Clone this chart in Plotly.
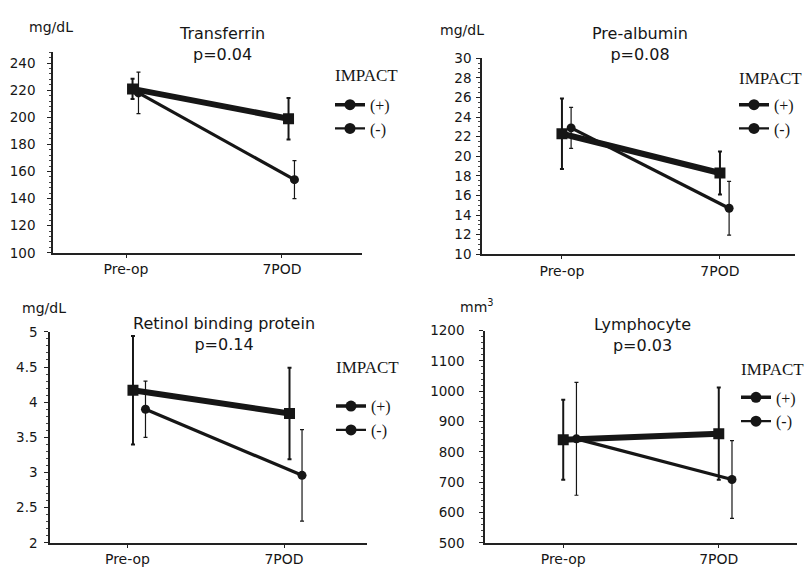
import plotly.graph_objects as go

W, H = 807, 582

categories = ["Pre-op", "7POD"]
series_names = ["(+)", "(-)"]
legend_heading = "IMPACT"

transferrin_plus = [221, 199]
transferrin_plus_sd = [7.5, 15.3]
transferrin_minus = [218, 154]
transferrin_minus_sd = [15.3, 14.0]

prealbumin_plus = [22.3, 18.3]
prealbumin_plus_sd = [3.6, 2.2]
prealbumin_minus = [22.9, 14.7]
prealbumin_minus_sd = [2.1, 2.75]

rbp_plus = [4.17, 3.84]
rbp_plus_sd = [0.77, 0.65]
rbp_minus = [3.9, 2.96]
rbp_minus_sd = [0.4, 0.65]

lymph_plus = [840, 860]
lymph_plus_sd = [132, 152]
lymph_minus = [843, 709]
lymph_minus_sd = [186, 128]


def px(x):
    return x / W


def py(y):
    return 1 - y / H


INK = "#161616"
SANS = "DejaVu Sans"
SERIF = "Liberation Serif"

panels = [
    dict(title="Transferrin", p="p=0.04", unit="mg/dL",
         plus=transferrin_plus, plus_sd=transferrin_plus_sd,
         minus=transferrin_minus, minus_sd=transferrin_minus_sd,
         box=(53, 362, 45, 251.7), yrange=[100, 248.4], dtick=20, minor=4,
         xrange=[-0.468, 1.513], off=(0.042, 0.08), standoff=9,
         title_xy=(222, 37), unit_xy=(51, 20),
         head_xy=(333, 69), legend_xy=(330, 82)),
    dict(title="Pre-albumin", p="p=0.08", unit="mg/dL",
         plus=prealbumin_plus, plus_sd=prealbumin_plus_sd,
         minus=prealbumin_minus, minus_sd=prealbumin_minus_sd,
         box=(482, 795, 51.7, 253.3), yrange=[10, 30], dtick=2, minor=0.5,
         xrange=[-0.506, 1.475], off=(0.0, 0.058), standoff=2,
         title_xy=(640, 37), unit_xy=(462, 23),
         head_xy=(737, 72), legend_xy=(734, 82)),
    dict(title="Retinol binding protein", p="p=0.14", unit="mg/dL",
         plus=rbp_plus, plus_sd=rbp_plus_sd,
         minus=rbp_minus, minus_sd=rbp_minus_sd,
         box=(50, 367, 333, 550), yrange=[2, 5], dtick=0.5, minor=0.1,
         xrange=[-0.495, 1.53], off=(0.035, 0.115), standoff=4,
         title_xy=(224, 335), unit_xy=(44, 308),
         head_xy=(334, 370), legend_xy=(331, 392)),
    dict(title="Lymphocyte", p="p=0.03", unit="mm<sup>3</sup>",
         plus=lymph_plus, plus_sd=lymph_plus_sd,
         minus=lymph_minus, minus_sd=lymph_minus_sd,
         box=(485, 797, 331.7, 550), yrange=[500, 1200], dtick=100, minor=20,
         xrange=[-0.503, 1.503], off=(0.0, 0.085), standoff=12,
         title_xy=(642, 336), unit_xy=(477, 306),
         head_xy=(739, 372), legend_xy=(736, 383)),
]

fig = go.Figure()
annotations = []
layout = {}

for i, pnl in enumerate(panels, start=1):
    sfx = "" if i == 1 else str(i)
    xa, ya = f"x{sfx}", f"y{sfx}"
    leg = f"legend{sfx}"
    x0, x1, y0, y1 = pnl["box"]
    idx = list(range(len(categories)))

    # (-) group: thinner line with round markers
    fig.add_trace(go.Scatter(
        x=[k + pnl["off"][1] for k in idx], y=pnl["minus"],
        mode="lines+markers", name=series_names[1], showlegend=False,
        line=dict(color=INK, width=3.2),
        marker=dict(symbol="circle", size=9, color=INK),
        error_y=dict(type="data", array=pnl["minus_sd"], color=INK,
                     thickness=1.2, width=2),
        xaxis=xa, yaxis=ya))
    # (+) group: heavy line with square markers
    fig.add_trace(go.Scatter(
        x=[k + pnl["off"][0] for k in idx], y=pnl["plus"],
        mode="lines+markers", name=series_names[0], showlegend=False,
        line=dict(color=INK, width=6),
        marker=dict(symbol="square", size=11, color=INK),
        error_y=dict(type="data", array=pnl["plus_sd"], color=INK,
                     thickness=2, width=2),
        xaxis=xa, yaxis=ya))

    # legend keys
    for name, lw in zip(series_names, (3.5, 2.2)):
        fig.add_trace(go.Scatter(
            x=[None], y=[None], mode="lines+markers", name=name,
            line=dict(color=INK, width=lw),
            marker=dict(symbol="circle", size=11, color=INK),
            legend=leg, xaxis=xa, yaxis=ya))

    layout[f"xaxis{sfx}"] = dict(
        domain=[px(x0), px(x1)], range=pnl["xrange"], anchor=ya,
        tickmode="array", tickvals=idx, ticktext=categories,
        showline=True, linecolor="#222", linewidth=1.5,
        ticks="outside", ticklen=3, tickcolor="#222",
        showgrid=False, zeroline=False,
        tickfont=dict(family=SANS, size=14, color=INK))
    layout[f"yaxis{sfx}"] = dict(
        domain=[py(y1), py(y0)], range=pnl["yrange"], anchor=xa,
        dtick=pnl["dtick"], tick0=pnl["yrange"][0],
        showline=True, linecolor="#222", linewidth=1.5,
        ticks="outside", ticklen=4, tickcolor="#222",
        ticklabelstandoff=pnl["standoff"],
        minor=dict(dtick=pnl["minor"], ticks="outside", ticklen=2,
                   tickcolor="#444", showgrid=False),
        showgrid=False, zeroline=False,
        tickfont=dict(family=SANS, size=13.5, color=INK))
    layout[leg] = dict(
        x=px(pnl["legend_xy"][0]), y=py(pnl["legend_xy"][1]),
        xanchor="left", yanchor="top",
        bgcolor="rgba(0,0,0,0)", borderwidth=0,
        font=dict(family=SERIF, size=16, color=INK),
        itemwidth=30, tracegroupgap=0)

    annotations.append(dict(
        text=legend_heading, xref="paper", yref="paper",
        x=px(pnl["head_xy"][0]), y=py(pnl["head_xy"][1]),
        xanchor="left", yanchor="middle", showarrow=False,
        font=dict(family=SERIF, size=17, color=INK)))
    annotations.append(dict(
        text=f"{pnl['title']}<br>{pnl['p']}", xref="paper", yref="paper",
        x=px(pnl["title_xy"][0]), y=py(pnl["title_xy"][1]),
        xanchor="center", yanchor="middle", showarrow=False,
        font=dict(family=SANS, size=16, color=INK)))
    annotations.append(dict(
        text=pnl["unit"], xref="paper", yref="paper",
        x=px(pnl["unit_xy"][0]), y=py(pnl["unit_xy"][1]),
        xanchor="center", yanchor="middle", showarrow=False,
        font=dict(family=SANS, size=14, color=INK)))

fig.update_layout(
    width=W, height=H,
    margin=dict(l=0, r=0, t=0, b=0),
    paper_bgcolor="white", plot_bgcolor="white",
    annotations=annotations,
    **layout)

fig.write_html("out.html")
